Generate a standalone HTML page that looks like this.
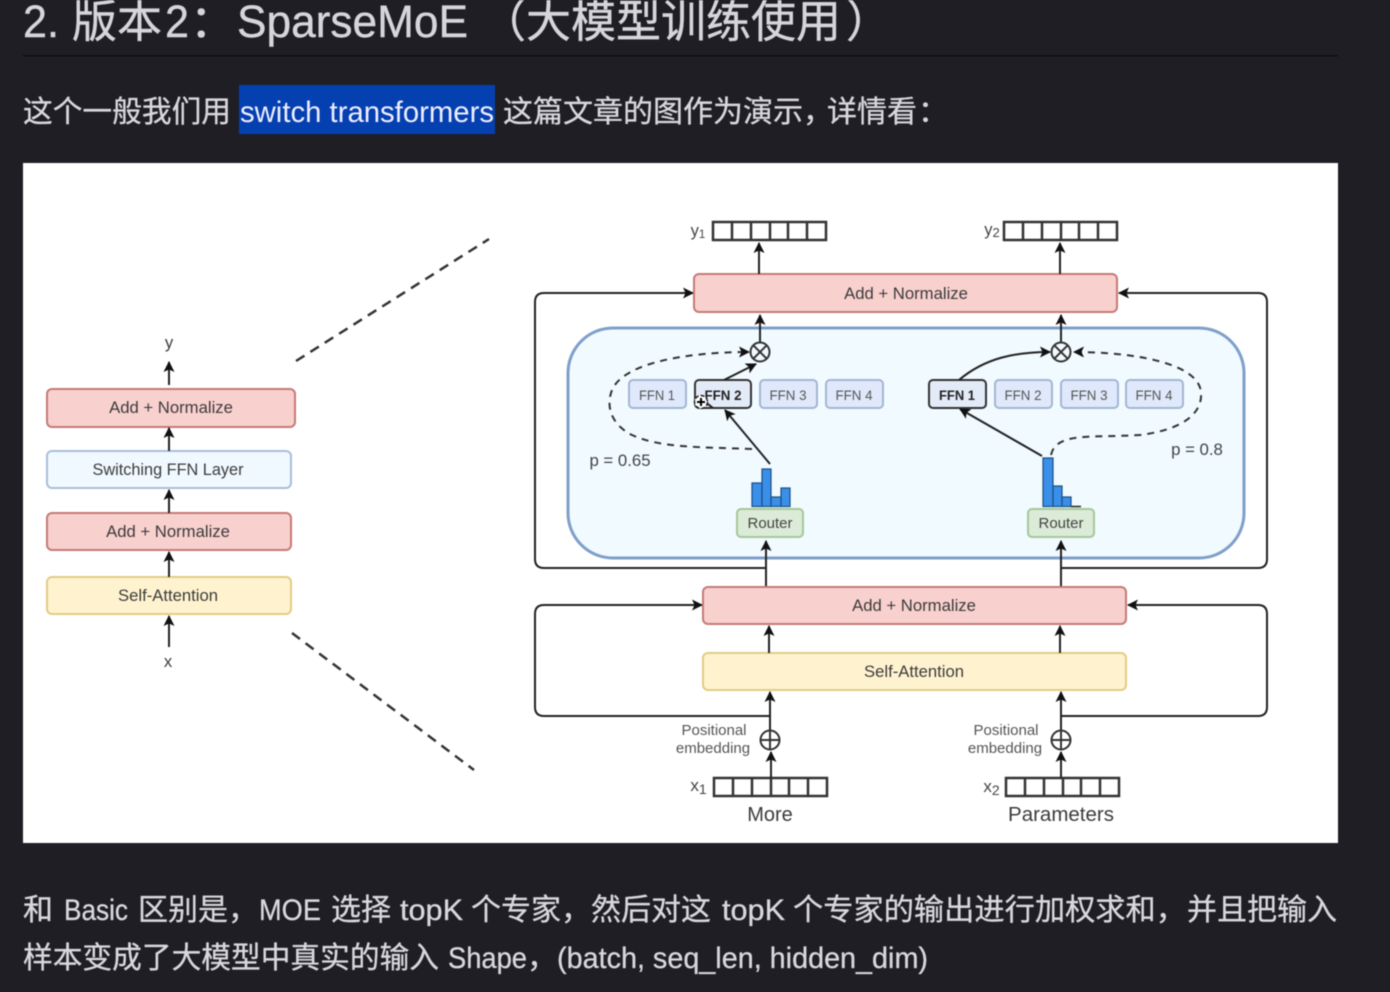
<!DOCTYPE html>
<html><head><meta charset="utf-8">
<style>
html,body{margin:0;padding:0;background:#1e1e24;width:1390px;height:992px;overflow:hidden}
svg{display:block;filter:blur(.55px)}
text{font-family:"Liberation Sans","Noto Sans CJK SC",sans-serif}
.h{fill:#d6d6da;font-size:45px;stroke:#d6d6da;stroke-width:.4}
.b{fill:#d8d8dc;font-size:30px;stroke:#d8d8dc;stroke-width:.3}
.d{fill:#3c3c3c;font-size:16.7px;text-anchor:middle}
.f{fill:#555;font-size:13.5px;text-anchor:middle}
.s{fill:#222;font-size:13.5px;text-anchor:middle;font-weight:bold}
.l{fill:#444;font-size:15px;text-anchor:middle}
.a{stroke:#222;stroke-width:2;fill:none;marker-end:url(#m)}
.c{stroke:#333;stroke-width:2;fill:none}
.ds{stroke:#333;stroke-width:2;fill:none;stroke-dasharray:7 6}
.red{fill:#f8d0ce;stroke:#c67a76;stroke-width:2}
.yel{fill:#fff3cf;stroke:#e2cc84;stroke-width:2}
.ffn{fill:#dfe9fb;stroke:#a3b6d2;stroke-width:2}
.sel{fill:#e4ebf8;stroke:#333;stroke-width:2}
.rt{fill:#dcebd8;stroke:#a6c79a;stroke-width:2}
.bar{fill:#3a8fe8;stroke:#1d4f85;stroke-width:1.2}
</style></head><body>
<svg width="1390" height="992" viewBox="0 0 1390 992" xmlns="http://www.w3.org/2000/svg">
<defs>
<marker id="m" markerUnits="userSpaceOnUse" markerWidth="12" markerHeight="12" refX="10" refY="6" orient="auto">
<path d="M0 .5L11 6L0 11.5L2.5 6Z" fill="#111"/></marker>
<marker id="md" markerUnits="userSpaceOnUse" markerWidth="12" markerHeight="12" refX="10" refY="6" orient="auto">
<path d="M0 .5L11 6L0 11.5L2.5 6Z" fill="#111"/></marker>
</defs>
<rect width="1390" height="992" fill="#1e1e24"/>

<text class="h" x="23" y="37" textLength="36" lengthAdjust="spacingAndGlyphs">2.</text>
<text class="h" x="72" y="37">版本</text>
<text class="h" x="165" y="37" textLength="24" lengthAdjust="spacingAndGlyphs">2</text>
<text class="h" x="190" y="37">：</text>
<text class="h" x="237" y="37" textLength="231" lengthAdjust="spacingAndGlyphs">SparseMoE</text>
<text class="h" x="481" y="37">（大模型训练使用</text>
<text class="h" x="846" y="37">）</text>
<rect x="23" y="55" width="1315" height="1.5" fill="#0e0e12"/>

<text class="b" x="23" y="122" textLength="208" lengthAdjust="spacingAndGlyphs">这个一般我们用</text>
<rect x="239" y="85" width="256" height="49" fill="#0540b0"/>
<text class="b" x="240" y="122" textLength="254" lengthAdjust="spacingAndGlyphs" style="fill:#eef;stroke:none">switch transformers</text>
<text class="b" x="503" y="122">这篇文章的图作为演示，</text>
<text class="b" x="827" y="122">详情看</text>
<text class="b" x="918" y="122">：</text>

<rect x="23" y="163" width="1315" height="680" fill="#fff"/>

<!-- left stack -->
<rect class="red" x="47" y="389" width="248" height="38" rx="5"/>
<rect x="47" y="451" width="244" height="37" rx="5" fill="#f0f9ff" stroke="#a9bedb" stroke-width="2"/>
<rect class="red" x="47" y="513" width="244" height="37" rx="5"/>
<rect class="yel" x="47" y="577" width="244" height="37" rx="5"/>
<text class="d" x="171" y="413">Add + Normalize</text>
<text class="d" x="168" y="475" textLength="151" lengthAdjust="spacingAndGlyphs">Switching FFN Layer</text>
<text class="d" x="168" y="537">Add + Normalize</text>
<text class="d" x="168" y="601" textLength="100" lengthAdjust="spacingAndGlyphs">Self-Attention</text>
<path class="a" d="M169 385V362"/>
<path class="a" d="M169 451V428"/>
<path class="a" d="M169 513V490"/>
<path class="a" d="M169 577V552"/>
<path class="a" d="M169 647V616"/>
<text class="d" x="169" y="348">y</text>
<text class="d" x="168" y="667">x</text>

<path d="M296 361L489 239" stroke="#333" stroke-width="2.5" stroke-dasharray="10 7" fill="none"/>
<path d="M292 633L474 770" stroke="#333" stroke-width="2.5" stroke-dasharray="10 7" fill="none"/>

<!-- feedback loops -->
<path class="a" d="M767 568H544Q535 568 535 559V302Q535 293 544 293H693"/>
<path class="a" d="M1061 568H1258Q1267 568 1267 559V302Q1267 293 1258 293H1119"/>
<path class="a" d="M770 716H544Q535 716 535 707V614Q535 605 544 605H702"/>
<path class="a" d="M1061 716H1258Q1267 716 1267 707V614Q1267 605 1258 605H1128"/>

<!-- blue panel -->
<rect x="568" y="328" width="676" height="230" rx="45" fill="#f0faff" stroke="#7f9fca" stroke-width="3"/>

<!-- top -->
<rect class="red" x="694" y="274" width="423" height="38" rx="5"/>
<text class="d" x="906" y="299">Add + Normalize</text>
<path class="a" d="M759 274V243"/>
<path class="a" d="M1060 274V243"/>
<path class="a" d="M760 342V315"/>
<path class="a" d="M1061 342V315"/>

<!-- y grids -->
<g class="c" style="stroke-width:2.5">
<rect x="713" y="222" width="113" height="18"/><path d="M732 222v18M751 222v18M770 222v18M788 222v18M807 222v18"/>
<rect x="1004" y="222" width="113" height="18"/><path d="M1023 222v18M1042 222v18M1061 222v18M1079 222v18M1098 222v18"/>
<rect x="714" y="778" width="113" height="18"/><path d="M733 778v18M752 778v18M771 778v18M789 778v18M808 778v18"/>
<rect x="1006" y="778" width="113" height="18"/><path d="M1025 778v18M1044 778v18M1063 778v18M1081 778v18M1100 778v18"/>
</g>
<text class="l" x="698" y="236" style="font-size:16.5px">y<tspan font-size="11.500" dy="2">1</tspan></text>
<text class="l" x="992" y="235" style="font-size:16.5px">y<tspan font-size="13" dy="2">2</tspan></text>
<text class="l" x="698.500" y="791" style="font-size:17px">x<tspan font-size="14" dy="3">1</tspan></text>
<text class="l" x="991.500" y="792" style="font-size:17px">x<tspan font-size="14" dy="3">2</tspan></text>

<!-- FFN -->
<rect class="ffn" x="629" y="380" width="57" height="28" rx="4"/>
<rect class="sel" x="695" y="380" width="56" height="28" rx="4"/>
<rect class="ffn" x="760" y="380" width="57" height="28" rx="4"/>
<rect class="ffn" x="826" y="380" width="57" height="28" rx="4"/>
<rect class="sel" x="929" y="380" width="57" height="28" rx="4"/>
<rect class="ffn" x="995" y="380" width="57" height="28" rx="4"/>
<rect class="ffn" x="1061" y="380" width="57" height="28" rx="4"/>
<rect class="ffn" x="1126" y="380" width="57" height="28" rx="4"/>
<text class="f" x="657" y="400" textLength="36" lengthAdjust="spacingAndGlyphs">FFN 1</text>
<text class="s" x="723" y="400" textLength="37" lengthAdjust="spacingAndGlyphs">FFN 2</text>
<text class="f" x="788" y="400" textLength="37" lengthAdjust="spacingAndGlyphs">FFN 3</text>
<text class="f" x="854" y="400" textLength="37" lengthAdjust="spacingAndGlyphs">FFN 4</text>
<text class="s" x="957" y="400" textLength="36" lengthAdjust="spacingAndGlyphs">FFN 1</text>
<text class="f" x="1023" y="400" textLength="37" lengthAdjust="spacingAndGlyphs">FFN 2</text>
<text class="f" x="1089" y="400" textLength="37" lengthAdjust="spacingAndGlyphs">FFN 3</text>
<text class="f" x="1154" y="400" textLength="37" lengthAdjust="spacingAndGlyphs">FFN 4</text>

<!-- circles -->
<g class="c">
<circle cx="760" cy="352" r="9.5"/><path d="M753.3 345.3l13.4 13.4M766.7 345.3l-13.4 13.4"/>
<circle cx="1061" cy="352" r="9.5"/><path d="M1054.3 345.3l13.4 13.4M1067.7 345.3l-13.4 13.4"/>
</g>

<!-- connectors in panel -->
<path class="a" d="M724 380L756 364"/>
<path class="a" d="M770 464L725 410"/>
<path class="a" d="M713 408L704 401" style="marker-end:none"/>
<path class="a" d="M959 380C985 358 1015 352 1050 352"/>
<path class="a" d="M1042 456L960 409"/>
<path class="ds" d="M752 449C700 447 660 448 632 435C610 424 606 405 612 390C624 362 690 352 749 352" marker-end="url(#md)"/>
<path class="ds" d="M1051 455C1056 432 1090 438 1140 435C1180 430 1203 415 1201 392C1198 362 1130 352 1074 352" marker-end="url(#md)"/>
<text class="l" x="620" y="466" style="font-size:16.8px">p = 0.65</text>
<text class="l" x="1197" y="455" style="font-size:16.8px">p = 0.8</text>

<!-- bars -->
<rect class="bar" x="752" y="483" width="10" height="23.5"/>
<rect class="bar" x="762" y="469" width="9" height="37.5"/>
<rect class="bar" x="771" y="497" width="10" height="9.5"/>
<rect class="bar" x="781" y="488" width="9" height="18.5"/>
<rect class="bar" x="1043" y="458" width="10" height="48.5"/>
<rect class="bar" x="1053" y="486" width="9" height="20.5"/>
<rect class="bar" x="1062" y="497" width="9" height="9.5"/>
<path d="M1071 506.500H1081" stroke="#222" stroke-width="1.500"/>

<!-- routers -->
<rect class="rt" x="737" y="509" width="66" height="28" rx="4"/>
<rect class="rt" x="1028" y="509" width="66" height="28" rx="4"/>
<text class="l" x="770" y="528">Router</text>
<text class="l" x="1061" y="528">Router</text>
<path class="a" d="M766 587V541"/>
<path class="a" d="M1061 587V541"/>

<!-- lower -->
<rect class="red" x="703" y="587" width="423" height="37" rx="5"/>
<rect class="yel" x="703" y="653" width="423" height="37" rx="5"/>
<text class="d" x="914" y="611">Add + Normalize</text>
<text class="d" x="914" y="677" textLength="100" lengthAdjust="spacingAndGlyphs">Self-Attention</text>
<path class="a" d="M769 653V626"/>
<path class="a" d="M1060 653V626"/>
<path class="a" d="M770 730V692"/>
<path class="a" d="M1061 730V692"/>
<path class="a" d="M771 778V752"/>
<path class="a" d="M1061 778V752"/>
<g class="c">
<circle cx="770" cy="740" r="9.5"/><path d="M760.500 740h19M770 730.500v19"/>
<circle cx="1061" cy="740" r="9.5"/><path d="M1051.500 740h19M1061 730.500v19"/>
</g>
<g class="f" style="font-size:15px">
<text x="714" y="735">Positional</text><text x="713" y="753">embedding</text>
<text x="1006" y="735">Positional</text><text x="1005" y="753">embedding</text>
</g>
<text class="d" x="770" y="821" style="font-size:20px">More</text>
<text class="d" x="1061" y="821" style="font-size:20.5px">Parameters</text>

<!-- cursor -->
<circle cx="701" cy="402" r="6.500" fill="#fff" stroke="#222" stroke-width="1.500" stroke-dasharray="4 2"/>
<path d="M697 402h8M701 398v8" stroke="#000" stroke-width="2"/>

<!-- bottom text line 1 -->
<text class="b" x="23" y="920">和</text>
<text class="b" x="64" y="920" textLength="64" lengthAdjust="spacingAndGlyphs">Basic</text>
<text class="b" x="138" y="920">区别是，</text>
<text class="b" x="259" y="920" textLength="62" lengthAdjust="spacingAndGlyphs">MOE</text>
<text class="b" x="331" y="920">选择</text>
<text class="b" x="400" y="920" textLength="63" lengthAdjust="spacingAndGlyphs">topK</text>
<text class="b" x="471" y="920">个专家，</text>
<text class="b" x="591" y="920">然后对这</text>
<text class="b" x="722" y="920" textLength="63" lengthAdjust="spacingAndGlyphs">topK</text>
<text class="b" x="793" y="920" textLength="393" lengthAdjust="spacingAndGlyphs">个专家的输出进行加权求和，</text>
<text class="b" x="1187" y="920">并且把输入</text>
<!-- bottom text line 2 -->
<text class="b" x="23" y="968" textLength="416" lengthAdjust="spacingAndGlyphs">样本变成了大模型中真实的输入</text>
<text class="b" x="448" y="968" textLength="79" lengthAdjust="spacingAndGlyphs">Shape</text>
<text class="b" x="527" y="968">，</text>
<text class="b" x="557" y="968" textLength="371" lengthAdjust="spacingAndGlyphs">(batch, seq_len, hidden_dim)</text>
</svg>
</body></html>
